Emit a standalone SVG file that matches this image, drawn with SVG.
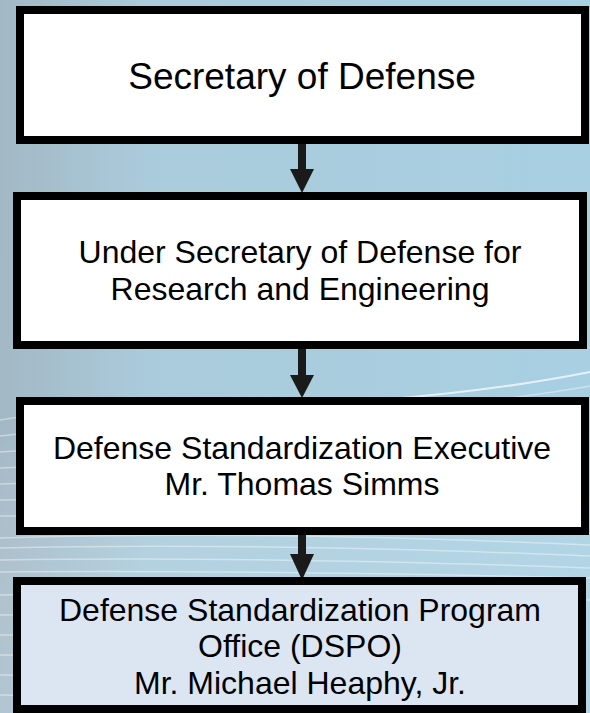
<svg xmlns="http://www.w3.org/2000/svg" width="590" height="713" viewBox="0 0 590 713">
  <defs>
    <linearGradient id="bg" x1="0" y1="0" x2="1" y2="0">
      <stop offset="0" stop-color="#a3b8c5"/>
      <stop offset="0.25" stop-color="#aacbdb"/>
      <stop offset="1" stop-color="#a8d0e2"/>
    </linearGradient>
    <linearGradient id="bg2" x1="0" y1="0" x2="0" y2="1">
      <stop offset="0" stop-color="#ffffff" stop-opacity="0"/>
      <stop offset="0.6" stop-color="#ffffff" stop-opacity="0"/>
      <stop offset="1" stop-color="#c8dde8" stop-opacity="0.35"/>
    </linearGradient>
    <style>
      .box { stroke: #000; stroke-width: 8; }
      .w { fill: #ffffff; }
      .lb { fill: #dce6f2; }
      .t { font-family: "Liberation Sans", Arial, sans-serif; fill: #000; text-anchor: middle; }
      .t32 { font-size: 32px; }
      .t37 { font-size: 37px; }
      .swoosh { fill: none; stroke: #ffffff; stroke-opacity: 0.4; stroke-width: 1.5; }
      .swoosh2 { fill: none; stroke: #ffffff; stroke-opacity: 0.7; stroke-width: 2; }
      .shaft { stroke: #1a1a1a; stroke-width: 8; }
      .head { fill: #1a1a1a; }
    </style>
  </defs>
  <rect x="0" y="0" width="590" height="713" fill="url(#bg)"/>
  <rect x="0" y="0" width="590" height="713" fill="url(#bg2)"/>
  <g id="background-swooshes">
    <path class="swoosh" d="M0 420 Q120 400 300 398"/>
    <path class="swoosh" d="M0 436 Q140 420 300 418"/>
    <path class="swoosh" d="M0 452 Q140 442 300 440"/>
    <path class="swoosh" d="M0 468 Q140 462 300 460"/>
    <path class="swoosh" d="M0 484 Q140 480 300 480"/>
    <path class="swoosh" d="M0 500 Q140 498 300 498"/>
    <path class="swoosh" d="M0 516 Q140 516 300 518"/>
    <path class="swoosh" d="M0 538 Q250 530 590 545"/>
    <path class="swoosh" d="M0 548 Q250 542 590 556"/>
    <path class="swoosh" d="M0 560 Q250 556 590 568"/>
    <path class="swoosh" d="M0 572 Q250 570 590 578"/>
    <path class="swoosh" d="M0 595 Q120 592 300 596"/>
    <path class="swoosh" d="M0 615 Q120 613 300 616"/>
    <path class="swoosh" d="M0 635 Q120 634 300 637"/>
    <path class="swoosh" d="M0 655 Q120 655 300 658"/>
    <path class="swoosh" d="M0 675 Q120 676 300 679"/>
    <path class="swoosh" d="M0 695 Q120 697 300 700"/>
    <path class="swoosh2" d="M380 400 Q500 390 590 372"/>
    <path class="swoosh" d="M400 410 Q510 400 590 386"/>
    <path class="swoosh" d="M586 600 L590 600"/>
  </g>
  <g id="connectors">
    <g id="arrow-1">
      <line class="shaft" x1="302" y1="144" x2="302" y2="170"/>
      <polygon class="head" points="290,169 314,169 302,193"/>
    </g>
    <g id="arrow-2">
      <line class="shaft" x1="302" y1="349" x2="302" y2="376"/>
      <polygon class="head" points="290,375 314,375 302,398"/>
    </g>
    <g id="arrow-3">
      <line class="shaft" x1="302" y1="535" x2="302" y2="555"/>
      <polygon class="head" points="290,554 314,554 302,580"/>
    </g>
  </g>
  <g id="node-secdef">
    <rect class="box w" x="20" y="10" width="565" height="130"/>
    <text class="t t37" x="302" y="89">Secretary of Defense</text>
  </g>
  <g id="node-usdre">
    <rect class="box w" x="17" y="196" width="566" height="149"/>
    <text class="t t32" x="300" y="263">Under Secretary of Defense for</text>
    <text class="t t32" x="300" y="300">Research and Engineering</text>
  </g>
  <g id="node-dse">
    <rect class="box w" x="20" y="401" width="565" height="130"/>
    <text class="t t32" x="302" y="459">Defense Standardization Executive</text>
    <text class="t t32" x="302" y="495">Mr. Thomas Simms</text>
  </g>
  <g id="node-dspo">
    <rect class="box lb" x="17" y="581" width="565" height="128"/>
    <text class="t t32" x="300" y="621">Defense Standardization Program</text>
    <text class="t t32" x="300" y="657">Office (DSPO)</text>
    <text class="t t32" x="300" y="694">Mr. Michael Heaphy, Jr.</text>
  </g>
</svg>
